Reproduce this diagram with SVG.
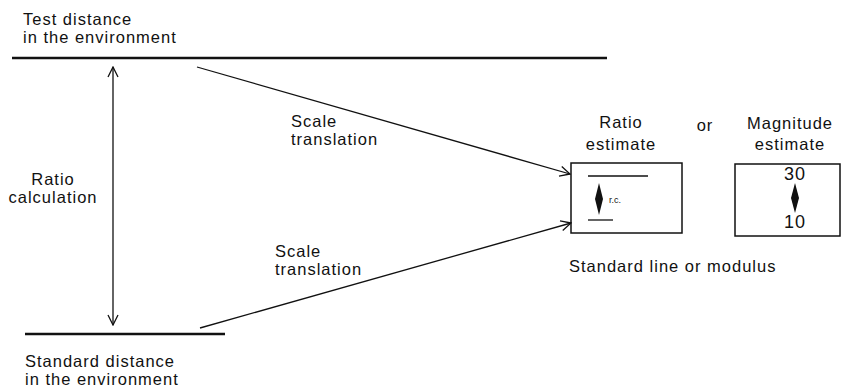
<svg xmlns="http://www.w3.org/2000/svg" width="841" height="388" viewBox="0 0 841 388">
<style>
text{font-family:"Liberation Sans",Arial,sans-serif;font-size:16.5px;fill:#111;letter-spacing:1px}
.c{text-anchor:middle}
.ln{stroke:#111;fill:none}
</style>
<defs>
<marker id="ah" viewBox="0 0 12 12" refX="11" refY="6" markerWidth="12" markerHeight="12" markerUnits="userSpaceOnUse" orient="auto-start-reverse">
<path d="M1,1 L11,6 L1,11" fill="none" stroke="#111" stroke-width="1.3"/>
</marker>
</defs>
<rect width="841" height="388" fill="#fff"/>
<g id="test-distance">
<line class="ln" x1="12" y1="58" x2="607" y2="58" stroke-width="2.5"/>
<text x="23" y="25">Test distance</text>
<text x="23" y="43">in the environment</text>
</g>
<g id="standard-distance">
<line class="ln" x1="25" y1="334" x2="225" y2="334" stroke-width="2.5"/>
<text x="25" y="367">Standard distance</text>
<text x="25" y="385">in the environment</text>
</g>
<g id="ratio-calc-label">
<text class="c" x="53" y="185">Ratio</text>
<text class="c" x="53" y="203">calculation</text>
</g>
<g id="ratio-estimate">
<text class="c" x="621" y="128">Ratio</text>
<text class="c" x="621" y="150">estimate</text>
<rect class="ln" x="571" y="163" width="111" height="70" stroke-width="1.5"/>
<line class="ln" x1="588" y1="176" x2="648" y2="176" stroke-width="1.3"/>
<line class="ln" x1="588" y1="220" x2="613" y2="220" stroke-width="1.3"/>
<path d="M599,183 L603,199 L599,215 L595,199 Z" fill="#111"/>
<text x="609" y="203" style="font-size:9px;letter-spacing:0">r.c.</text>
</g>
<g id="or-label">
<text class="c" x="705" y="131">or</text>
</g>
<g id="magnitude-estimate">
<text class="c" x="790" y="129">Magnitude</text>
<text class="c" x="790" y="150">estimate</text>
<rect class="ln" x="735" y="164" width="105" height="72" stroke-width="1.5"/>
<text class="c" x="795" y="180" style="font-size:18px">30</text>
<path d="M795,183 L799,198 L795,213 L791,198 Z" fill="#111"/>
<text class="c" x="795" y="228" style="font-size:18px">10</text>
</g>
<g id="modulus-label">
<text x="569" y="272">Standard line or modulus</text>
</g>
<g id="connectors">
<line class="ln" x1="113" y1="67" x2="113" y2="325" stroke-width="1.3" marker-start="url(#ah)" marker-end="url(#ah)"/>
<line class="ln" x1="197" y1="67" x2="570" y2="174" stroke-width="1.3" marker-end="url(#ah)"/>
<line class="ln" x1="200" y1="328" x2="571" y2="223" stroke-width="1.3" marker-end="url(#ah)"/>
<text x="291" y="127">Scale</text>
<text x="291" y="145">translation</text>
<text x="275" y="257">Scale</text>
<text x="275" y="275">translation</text>
</g>
</svg>
